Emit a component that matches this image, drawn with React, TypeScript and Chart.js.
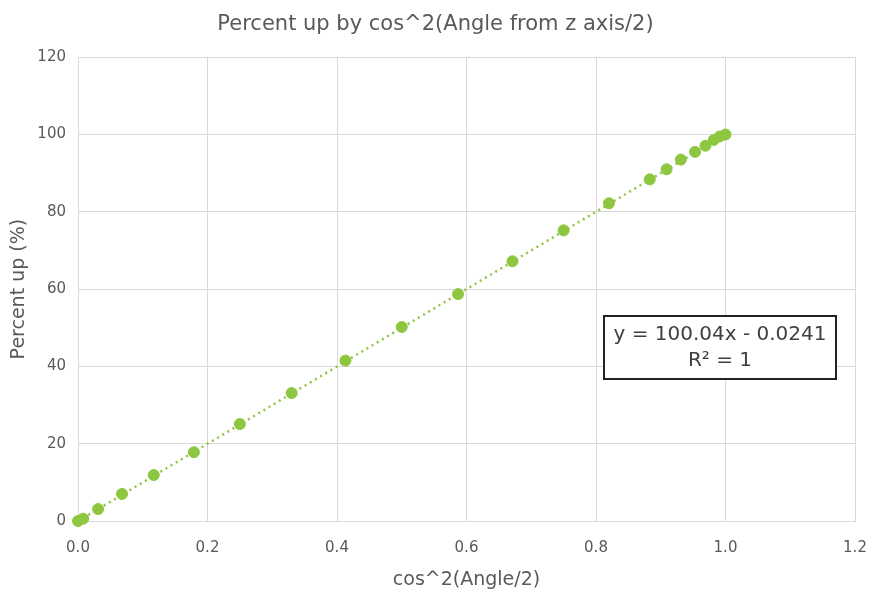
import React, { useEffect, useRef } from "react";
import { Chart, registerables } from "chart.js";

Chart.register(...registerables);

const xValues = [0, 0.008, 0.031, 0.068, 0.117, 0.179, 0.25, 0.33, 0.413, 0.5, 0.587, 0.671, 0.75, 0.82, 0.883, 0.909, 0.931, 0.953, 0.969, 0.982, 0.991, 1.0];
const yValues = [0, 0.6, 3.1, 7.0, 11.9, 17.8, 25.1, 33.1, 41.5, 50.2, 58.7, 67.2, 75.2, 82.2, 88.4, 91.0, 93.5, 95.5, 97.1, 98.6, 99.5, 100.0];
const trendSlope = 100.04;
const trendIntercept = -0.0241;
const trendXRange = [0, 1];
const xTicks = ["0.0", "0.2", "0.4", "0.6", "0.8", "1.0", "1.2"];
const yTicks = ["0", "20", "40", "60", "80", "100", "120"];
const titleText = "Percent up by cos^2(Angle from z axis/2)";
const xTitle = "cos^2(Angle/2)";
const yTitle = "Percent up (%)";
const eqLines = ["y = 100.04x - 0.0241", "R² = 1"];

const GREEN = "#8DC63F";
const FONT = "'DejaVu Sans', sans-serif";

const eqPlugin = {
  id: "eqBox",
  afterDraw(chart: any) {
    const ctx = chart.ctx;
    const x0 = 604, y0 = 316, w = 232, h = 63;
    ctx.save();
    ctx.fillStyle = "#ffffff";
    ctx.fillRect(x0, y0, w, h);
    ctx.strokeStyle = "#222222";
    ctx.lineWidth = 2;
    ctx.strokeRect(x0, y0, w, h);
    ctx.fillStyle = "#404040";
    ctx.font = "20px " + FONT;
    ctx.textAlign = "center";
    ctx.textBaseline = "middle";
    ctx.fillText(eqLines[0], x0 + w / 2, y0 + 19);
    ctx.fillText(eqLines[1], x0 + w / 2, y0 + 45);
    ctx.restore();
  },
};

export default function App() {
  const ref = useRef<HTMLCanvasElement>(null);
  useEffect(() => {
    document.body.style.margin = "0";
    const pts = xValues.map((x, i) => ({ x, y: yValues[i] }));
    const trend = trendXRange.map((x) => ({ x, y: trendSlope * x + trendIntercept }));
    const chart = new Chart(ref.current!, {
      type: "scatter",
      data: {
        datasets: [
          {
            type: "line",
            data: trend,
            borderColor: GREEN,
            borderWidth: 2.5,
            borderDash: [2, 4],
            pointRadius: 0,
            order: 2,
            clip: false,
          } as any,
          {
            data: pts,
            backgroundColor: GREEN,
            borderColor: GREEN,
            pointRadius: 5.5,
            order: 1,
            clip: false,
          } as any,
        ],
      },
      options: {
        responsive: false,
        animation: false,
        layout: { padding: { left: 0, right: 0, top: 0, bottom: 0 } },
        plugins: {
          legend: { display: false },
          tooltip: { enabled: false },
          title: {
            display: true,
            text: titleText,
            color: "#595959",
            font: { family: FONT, size: 21, weight: "normal" },
            padding: { top: 12, bottom: 20 },
          },
        },
        scales: {
          x: {
            type: "linear",
            min: 0,
            max: 1.2,
            ticks: {
              stepSize: 0.2,
              color: "#595959",
              font: { family: FONT, size: 15 },
              padding: 18,
              callback: (v: any) => xTicks[Math.round(Number(v) / 0.2)] ?? "",
            },
            grid: { color: "#d9d9d9", lineWidth: 1, drawTicks: false },
            border: { color: "#d9d9d9" },
            title: {
              display: true,
              text: xTitle,
              color: "#595959",
              font: { family: FONT, size: 19 },
              padding: { top: 4, bottom: 9 },
            },
            afterFit: (s: any) => { s.height = 79; s.paddingRight = 16; s.paddingLeft = 0; },
          },
          y: {
            type: "linear",
            min: 0,
            max: 120,
            ticks: {
              stepSize: 20,
              color: "#595959",
              font: { family: FONT, size: 15 },
              padding: 12,
              callback: (v: any) => yTicks[Math.round(Number(v) / 20)] ?? "",
            },
            grid: { color: "#d9d9d9", lineWidth: 1, drawTicks: false },
            border: { color: "#d9d9d9" },
            title: {
              display: true,
              text: yTitle,
              color: "#595959",
              font: { family: FONT, size: 19 },
              padding: { top: 8, bottom: 4 },
            },
            afterFit: (s: any) => { s.width = 78; },
          },
        },
      },
      plugins: [eqPlugin],
    });
    return () => chart.destroy();
  }, []);
  return (
    <div style={{ width: 871, height: 600 }}>
      <canvas ref={ref} width={871} height={600} />
    </div>
  );
}
